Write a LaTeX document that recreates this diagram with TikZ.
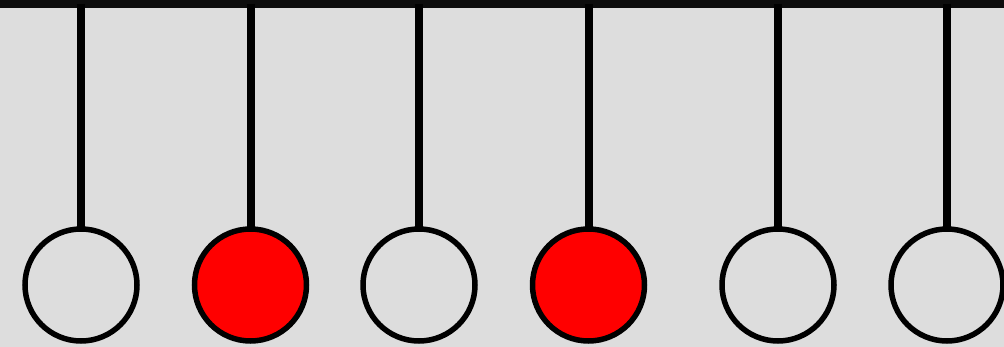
\documentclass[tikz,border=0pt]{standalone}
\definecolor{bg}{HTML}{DDDDDD}
\definecolor{bob}{HTML}{FF0000}
\tikzset{
  ball/.style={circle, draw=black, line width=5.5pt, minimum size=112pt, inner sep=0pt, outer sep=0pt},
  white ball/.style={ball, fill=bg},
  red ball/.style={ball, fill=bob},
  string/.style={line width=8pt, black}
}
\begin{document}
\begin{tikzpicture}[x=1pt, y=-1pt]
\useasboundingbox (0,0) rectangle (1004,347);
\clip (0,0) rectangle (1004,347);
\fill[bg] (0,0) rectangle (1004,347);
\fill[black!95] (0,0) rectangle (1004,8);
\foreach \i/\x in {1/81,2/250.5,3/419,4/588.5,5/778,6/947}{
  \coordinate (t\i) at (\x,4);
}
\node[white ball] (c1) at (81,285) {};
\node[red ball] (c2) at (250.5,285) {};
\node[white ball] (c3) at (419,285) {};
\node[red ball] (c4) at (588.5,285) {};
\node[white ball] (c5) at (778,285) {};
\node[white ball] (c6) at (947,285) {};
\foreach \i in {1,...,6}{
  \draw[string] (t\i) -- (c\i.north);
}
\end{tikzpicture}
\end{document}
